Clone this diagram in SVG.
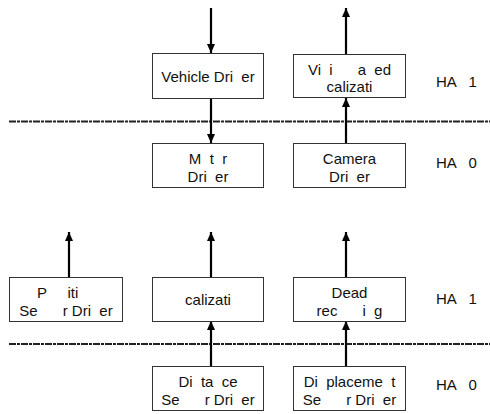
<svg xmlns="http://www.w3.org/2000/svg" width="490" height="414" viewBox="0 0 490 414" xml:space="preserve">
<style>
.box{fill:#fff;stroke:#333;stroke-width:1}
.lbl{font-family:"Liberation Sans",Arial,sans-serif;font-size:15px;fill:#111;text-anchor:middle;white-space:pre}
.ha{font-family:"Liberation Sans",Arial,sans-serif;font-size:15px;fill:#111;white-space:pre}
.arr{stroke:#000;stroke-width:2.2;fill:none;marker-end:url(#head)}
.sep{stroke:#222;stroke-width:2;stroke-dasharray:7 1 3 1}
</style>
<defs>
<marker id="head" viewBox="0 0 9 10" refX="9" refY="5" markerWidth="9" markerHeight="10" markerUnits="userSpaceOnUse" orient="auto">
<path d="M0,1 L9,5 L0,9 Z" fill="#000"/>
</marker>
</defs>
<g id="separators">
<line class="sep" x1="9" y1="121.5" x2="490" y2="121.5"/>
<line class="sep" x1="9" y1="344" x2="490" y2="344"/>
</g>
<g id="connectors">
<line class="arr" x1="211" y1="8" x2="211" y2="53"/>
<line class="arr" x1="211" y1="98" x2="211" y2="143"/>
<line class="arr" x1="346" y1="54" x2="346" y2="8"/>
<line class="arr" x1="346" y1="143" x2="346" y2="98"/>
<line class="arr" x1="69" y1="277" x2="69" y2="232"/>
<line class="arr" x1="211" y1="277" x2="211" y2="232"/>
<line class="arr" x1="346" y1="277" x2="346" y2="232"/>
<line class="arr" x1="211" y1="366" x2="211" y2="321"/>
<line class="arr" x1="346" y1="366" x2="346" y2="321"/>
</g>
<g id="vehicle-driver">
<rect class="box" x="152.5" y="53.5" width="111" height="45"/>
<text class="lbl" x="208" y="81.5">Vehicle Dri  er</text>
</g>
<g id="vision-localization">
<rect class="box" x="293.5" y="54.5" width="112" height="43"/>
<text class="lbl" x="349.5" y="75">Vi  i      a  ed</text>
<text class="lbl" x="349.5" y="92">calizati</text>
</g>
<g id="motor-driver">
<rect class="box" x="152.5" y="143.5" width="111" height="44"/>
<text class="lbl" x="208" y="164">M  t  r</text>
<text class="lbl" x="208" y="181.5">Dri  er</text>
</g>
<g id="camera-driver">
<rect class="box" x="293.5" y="143.5" width="112" height="44"/>
<text class="lbl" x="349.5" y="164">Camera</text>
<text class="lbl" x="349.5" y="181.5">Dri  er</text>
</g>
<g id="position-sensor-driver">
<rect class="box" x="9.5" y="277.5" width="113" height="44"/>
<text class="lbl" x="66" y="298">P     iti    </text>
<text class="lbl" x="66" y="315.5">Se      r Dri  er</text>
</g>
<g id="localization">
<rect class="box" x="152.5" y="277.5" width="111" height="44"/>
<text class="lbl" x="208" y="305">calizati</text>
</g>
<g id="dead-reckoning">
<rect class="box" x="293.5" y="277.5" width="112" height="44"/>
<text class="lbl" x="349.5" y="298">Dead</text>
<text class="lbl" x="349.5" y="315.5">rec      i  g</text>
</g>
<g id="distance-sensor-driver">
<rect class="box" x="152.5" y="366.5" width="111" height="44"/>
<text class="lbl" x="208" y="387">Di  ta  ce</text>
<text class="lbl" x="208" y="404.5">Se      r Dri  er</text>
</g>
<g id="displacement-sensor-driver">
<rect class="box" x="293.5" y="366.5" width="112" height="44"/>
<text class="lbl" x="349.5" y="387">Di  placeme  t</text>
<text class="lbl" x="349.5" y="404.5">Se      r Dri  er</text>
</g>
<g id="layer-labels">
<text class="ha" x="436" y="86.5">HA   1</text>
<text class="ha" x="436" y="168">HA   0</text>
<text class="ha" x="436" y="304">HA   1</text>
<text class="ha" x="436" y="390">HA   0</text>
</g>
</svg>
